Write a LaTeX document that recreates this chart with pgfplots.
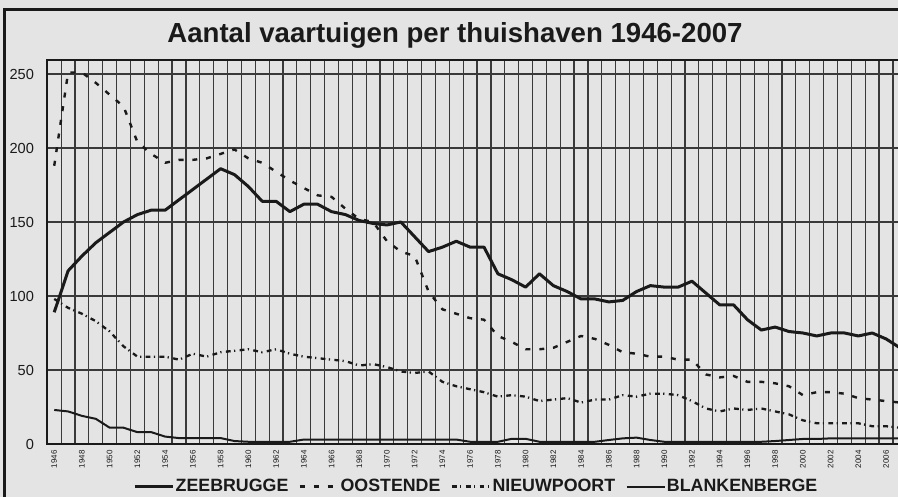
\documentclass[border=0pt]{standalone}
\usepackage{fontspec}
\setmainfont{Liberation Sans}
\usepackage{pgfplots}
\usepackage{pgfplotstable}
\pgfplotsset{compat=1.18}
\definecolor{bg}{HTML}{E4E4E4}
\definecolor{ink}{HTML}{1A1A1A}
\definecolor{gridc}{HTML}{3A3A3A}

% aantal vaartuigen: Z=Zeebrugge O=Oostende N=Nieuwpoort B=Blankenberge
\pgfplotstableread{
year Z O N B
1946 89 188 98 23
1947 117 251 92 22
1948 127 251 88 19
1949 136 244 83 17
1950 143 236 76 11
1951 150 228 66 11
1952 155 204 59 8
1953 158 196 59 8
1954 158 190 59 5
1955 165 192 57 4
1956 172 192 61 4
1957 179 193 59 4
1958 186 196 62 4
1959 182 199 63 2
1960 174 193 64 1.5
1961 164 190 62 1.5
1962 164 184 64 1.5
1963 157 178 61 1.5
1964 162 173 59 3
1965 162 168 58 3
1966 157 167 57 3
1967 155 159 56 3
1968 151 152 53 3
1969 149 150 54 3
1970 148 137 52 3
1971 150 130 49 3
1972 140 127 48 3
1973 130 103 49 3
1974 133 91 42 3
1975 137 88 39 3
1976 133 85 37 1.5
1977 133 84 35 1.5
1978 115 73 32 1.5
1979 111 69 33 3.5
1980 106 64 32 3.5
1981 115 64 29 1.5
1982 107 65 30 1.5
1983 103 69 31 1.5
1984 98 73 28 1.5
1985 98 71 30 1.5
1986 96 67 30 2.7
1987 97 62 33 3.8
1988 103 61 32 4.3
1989 107 59 34 2.7
1990 106 59 34 1.5
1991 106 57 33 1.5
1992 110 57 29 1.5
1993 102 47 24 1.5
1994 94 45 22 1.5
1995 94 46 24 1.5
1996 84 42 23 1.5
1997 77 42 24 1.5
1998 79 41 22 2
1999 76 39 20 2.7
2000 75 33 16 3.4
2001 73 35 14 3.4
2002 75 35 14 3.8
2003 75 34 14 3.8
2004 73 31 14 3.8
2005 75 30 12 3.8
2006 71 29 12 3.8
2007 65 28 11 3.8
}\vaart

\begin{document}
\begin{tikzpicture}
\useasboundingbox (-23.65pt,-26.5pt) rectangle (425.35pt,222pt);
\fill[bg] (-23.65pt,-26.5pt) rectangle (425.35pt,222pt);
\draw[ink, line width=1.5pt] (-21.65pt,-30pt) -- (-21.65pt,217pt) -- (432pt,217pt);
\node[anchor=base, font=\fontsize{13.8}{16}\selectfont\bfseries, text=ink]
  at (203.85pt,200.5pt) {Aantal vaartuigen per thuishaven 1946-2007};
\begin{axis}[
  scale only axis, width=430.48pt, height=192pt,
  xmin=1945.5, xmax=2007.6, ymin=0, ymax=259.46,
  axis line style={ink, line width=0.9pt},
  xtick={1946,1948,...,2006},
  minor xtick={1945.5,1946.5,...,2006.5},
  xminorgrids=true, xmajorgrids=false, ymajorgrids=true,
  ytick={0,50,...,250},
  grid style={gridc, line width=0.6pt},
  minor grid style={gridc, line width=0.6pt},
  tick style={draw=none},
  /pgf/number format/assume math mode=true,
  /pgf/number format/1000 sep={},
  tick label style={text=ink},
  yticklabel style={font=\fontsize{7.3}{8}\selectfont, anchor=east, inner sep=0pt, xshift=-6.5pt},
  xticklabel style={font=\fontsize{4}{4.5}\selectfont, yshift=-3pt, rotate=90, anchor=east, inner sep=0pt},
  legend columns=4,
  legend style={draw=none, fill=none, at={(0.4979,-0.1107)}, anchor=center,
    font=\fontsize{8.9}{10}\selectfont\bfseries, text=ink, inner sep=0pt,
    nodes={inner sep=0.7pt},
    /tikz/every even column/.append style={column sep=4.5pt}},
  legend image code/.code={\draw[#1] (0pt,0pt) -- (19pt,0pt);},
  every axis plot/.append style={line join=round},
]
\addplot[ink, line width=1.5pt] table[x=year, y=Z] {\vaart};
\addlegendentry{ZEEBRUGGE}
\addplot[ink, line width=1.2pt, dash pattern=on 2.5pt off 4.4pt] table[x=year, y=O] {\vaart};
\addlegendentry{OOSTENDE}
\addplot[ink, line width=1.15pt, dash pattern=on 2.4pt off 1.7pt on 0.6pt off 2.2pt] table[x=year, y=N] {\vaart};
\addlegendentry{NIEUWPOORT}
\addplot[ink, line width=1pt] table[x=year, y=B] {\vaart};
\addlegendentry{BLANKENBERGE}
\end{axis}
\end{tikzpicture}
\end{document}
